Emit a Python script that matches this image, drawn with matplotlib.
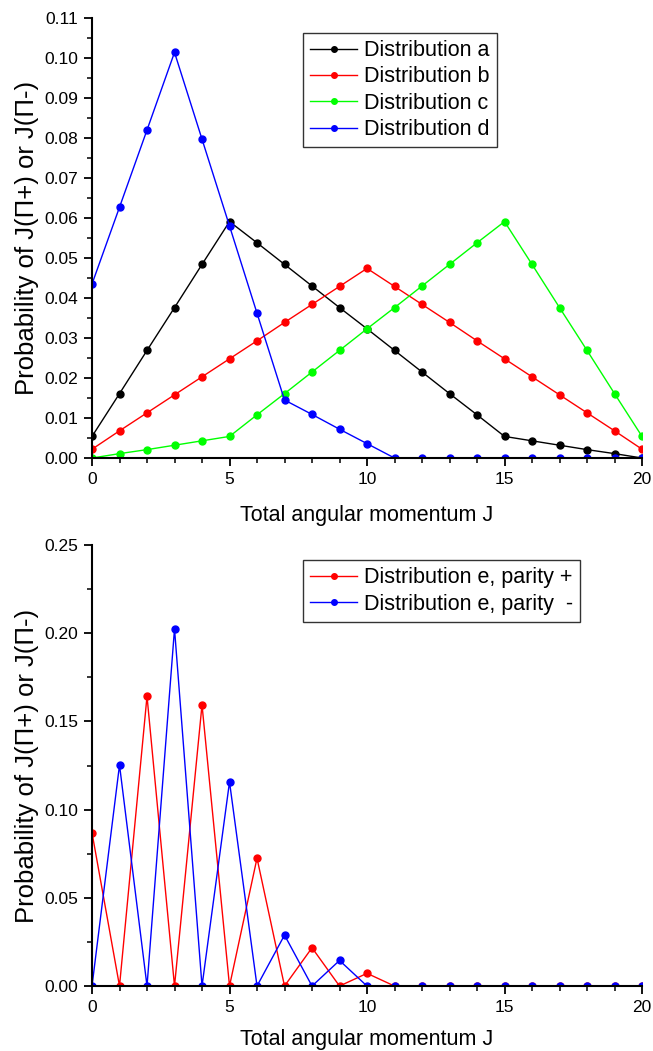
import numpy as np
import matplotlib
matplotlib.use("Agg")
import matplotlib.pyplot as plt
from matplotlib.ticker import MultipleLocator, FormatStrFormatter

plt.rcParams['font.family'] = ['Liberation Sans', 'DejaVu Sans']

J = list(range(21))

dist_a = [0.0054, 0.0161, 0.0269, 0.0376, 0.0484, 0.0591, 0.0538, 0.0484, 0.0430, 0.0376, 0.0323,
          0.0269, 0.0215, 0.0161, 0.0108, 0.0054, 0.0043, 0.0032, 0.0021, 0.0011, 0.0]
dist_b = [0.0022, 0.0068, 0.0113, 0.0158, 0.0203, 0.0248, 0.0293, 0.0339, 0.0384, 0.0429, 0.0474,
          0.0429, 0.0384, 0.0339, 0.0293, 0.0248, 0.0203, 0.0158, 0.0113, 0.0068, 0.0022]
dist_c = [0.0, 0.0011, 0.0021, 0.0032, 0.0043, 0.0054, 0.0108, 0.0161, 0.0215, 0.0269, 0.0323,
          0.0376, 0.0430, 0.0484, 0.0538, 0.0591, 0.0484, 0.0376, 0.0269, 0.0161, 0.0054]
dist_d = [0.0435, 0.0627, 0.0820, 0.1014, 0.0797, 0.0580, 0.0362, 0.0145, 0.0109, 0.0072, 0.0036,
          0.0, 0.0, 0.0, 0.0, 0.0, 0.0, 0.0, 0.0, 0.0, 0.0]

dist_e_plus = [0.0869, 0.0, 0.1643, 0.0, 0.1594, 0.0, 0.0725, 0.0, 0.0217, 0.0, 0.0072,
               0.0, 0.0, 0.0, 0.0, 0.0, 0.0, 0.0, 0.0, 0.0, 0.0]
dist_e_minus = [0.0, 0.1253, 0.0, 0.2025, 0.0, 0.1157, 0.0, 0.0289, 0.0, 0.0145, 0.0,
                0.0, 0.0, 0.0, 0.0, 0.0, 0.0, 0.0, 0.0, 0.0, 0.0]

ylabel = 'Probability of J(\u03a0+) or J(\u03a0-)'
xlabel = 'Total angular momentum J'

fig = plt.figure(figsize=(6.53, 10.51), dpi=100)
ax1 = fig.add_axes([0.1409, 0.5642, 0.8423, 0.4187])
ax2 = fig.add_axes([0.1409, 0.0618, 0.8423, 0.4196])


def style(ax, ymax, ymajor, yminor, fmt, xpad):
    ax.set_xlim(0, 20)
    ax.set_ylim(0, ymax)
    ax.spines['top'].set_visible(False)
    ax.spines['right'].set_visible(False)
    ax.spines['left'].set_linewidth(1.5)
    ax.spines['bottom'].set_linewidth(1.5)
    ax.xaxis.set_major_locator(MultipleLocator(5))
    ax.xaxis.set_minor_locator(MultipleLocator(1))
    ax.yaxis.set_major_locator(MultipleLocator(ymajor))
    ax.yaxis.set_minor_locator(MultipleLocator(yminor))
    ax.yaxis.set_major_formatter(FormatStrFormatter(fmt))
    ax.tick_params(which='major', length=6, width=1.3, labelsize=12.5, direction='out', pad=4)
    ax.tick_params(which='minor', length=3.5, width=1.1, direction='out')
    ax.set_xlabel(xlabel, fontsize=15.5, labelpad=xpad)
    ax.set_ylabel(ylabel, fontsize=18.5, labelpad=4)


lw = 1.0
ms = 5
ax1.plot(J, dist_a, '-o', color='black', lw=lw, ms=ms, label='Distribution a')
ax1.plot(J, dist_b, '-o', color='red', lw=lw, ms=ms, label='Distribution b')
ax1.plot(J, dist_c, '-o', color='#00ff00', lw=lw, ms=ms, label='Distribution c')
ax1.plot(J, dist_d, '-o', color='blue', lw=lw, ms=ms, label='Distribution d')
style(ax1, 0.11, 0.01, 0.005, '%.2f', 13)

ax2.plot(J, dist_e_plus, '-o', color='red', lw=lw, ms=ms, label='Distribution e, parity +')
ax2.plot(J, dist_e_minus, '-o', color='blue', lw=lw, ms=ms, label='Distribution e, parity  -')
style(ax2, 0.25, 0.05, 0.025, '%.2f', 10)

for ax in (ax1, ax2):
    leg = ax.legend(loc='upper left', bbox_to_anchor=(0.3836, 0.966), fontsize=15.5,
                    frameon=True, fancybox=False, handlelength=2.2, handletextpad=0.3,
                    labelspacing=0.25, borderpad=0.33, borderaxespad=0, markerscale=0.8)
    leg.get_frame().set_edgecolor('#333333')
    leg.get_frame().set_linewidth(1.0)
    leg.get_frame().set_alpha(1)

fig.savefig('out.png', dpi=100)
